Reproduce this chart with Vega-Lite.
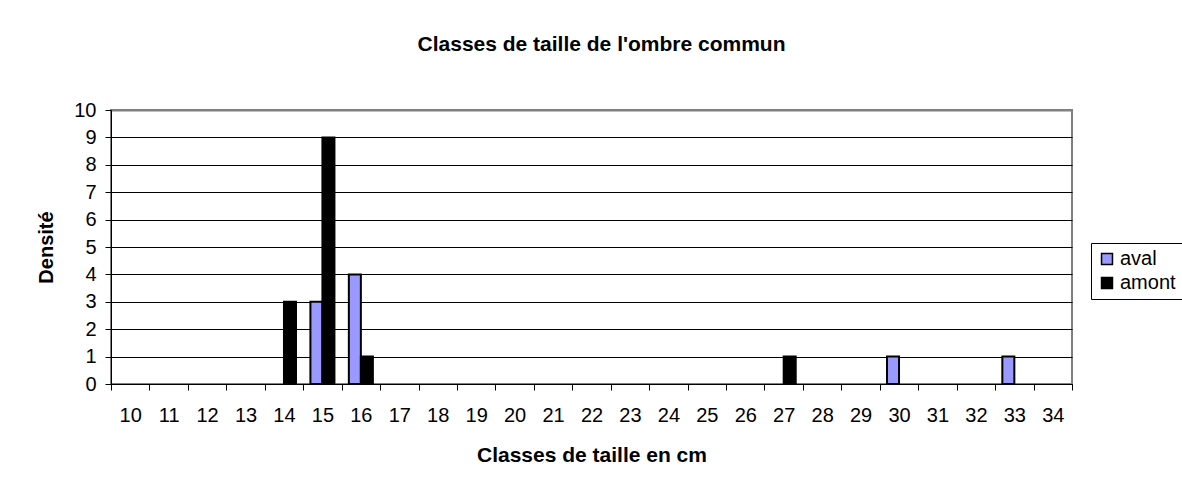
{
  "$schema": "https://vega.github.io/schema/vega-lite/v6.json",
  "autosize": {"type": "none"},
  "width": 961,
  "height": 274,
  "padding": {"left": 111, "top": 110, "right": 110, "bottom": 102},
  "background": "white",
  "title": {
    "text": "Classes de taille de l'ombre commun",
    "fontSize": 21,
    "fontWeight": "bold",
    "font": "Liberation Sans",
    "color": "black",
    "anchor": "middle",
    "frame": "group",
    "dx": 10,
    "offset": 45
  },
  "data": {
    "values": [
      {"classe": 14, "serie": "amont", "densite": 3},
      {"classe": 15, "serie": "aval", "densite": 3},
      {"classe": 15, "serie": "amont", "densite": 9},
      {"classe": 16, "serie": "aval", "densite": 4},
      {"classe": 16, "serie": "amont", "densite": 1},
      {"classe": 27, "serie": "amont", "densite": 1},
      {"classe": 30, "serie": "aval", "densite": 1},
      {"classe": 33, "serie": "aval", "densite": 1}
    ]
  },
  "mark": {"type": "bar", "stroke": "black", "strokeWidth": 2, "strokeOpacity": 1},
  "encoding": {
    "x": {
      "field": "classe",
      "type": "ordinal",
      "scale": {"domain": [10,11,12,13,14,15,16,17,18,19,20,21,22,23,24,25,26,27,28,29,30,31,32,33,34], "paddingInner": 0, "paddingOuter": 0},
      "axis": {
        "title": "Classes de taille en cm",
        "titleFontSize": 21,
        "titleFontWeight": "bold",
        "titleColor": "black",
        "titlePadding": 19,
        "labelAngle": 0,
        "labelFontSize": 20,
        "labelColor": "black",
        "labelPadding": 15,
        "tickBand": "extent",
        "tickSize": 6,
        "tickColor": "black",
        "domainColor": "black",
        "grid": false
      }
    },
    "xOffset": {
      "field": "serie",
      "type": "nominal",
      "scale": {"domain": ["aval", "amont"], "paddingInner": 0, "paddingOuter": 0.6}
    },
    "y": {
      "field": "densite",
      "type": "quantitative",
      "scale": {"domain": [0, 10], "nice": false},
      "axis": {
        "title": "Densité",
        "titleFontSize": 20,
        "titleFontWeight": "bold",
        "titleColor": "black",
        "titlePadding": 17,
        "values": [0,1,2,3,4,5,6,7,8,9,10],
        "labelFontSize": 20,
        "labelColor": "black",
        "labelPadding": 9,
        "tickSize": 6,
        "tickColor": "black",
        "domainColor": "black",
        "grid": true,
        "gridColor": {"condition": {"test": "datum.value == 10", "value": "#808080"}, "value": "black"},
        "gridWidth": {"condition": {"test": "datum.value == 10", "value": 2}, "value": 1}
      }
    },
    "fill": {
      "field": "serie",
      "type": "nominal",
      "scale": {"domain": ["aval", "amont"], "range": ["#9999FF", "#000000"]},
      "legend": {
        "title": null,
        "orient": "none",
        "legendX": 980,
        "legendY": 133,
        "labelFontSize": 20,
        "labelColor": "black",
        "symbolType": "square",
        "symbolSize": 120,
        "symbolStrokeColor": "black",
        "symbolStrokeWidth": 1.5,
        "symbolOpacity": 1,
        "strokeColor": "black",
        "fillColor": "white",
        "padding": 6,
        "rowPadding": 4,
        "labelOffset": 3
      }
    }
  },
  "config": {
    "font": "Liberation Sans",
    "view": {"stroke": "#808080", "strokeWidth": 2},
    "axis": {"labelFont": "Liberation Sans", "titleFont": "Liberation Sans"},
    "legend": {"labelFont": "Liberation Sans"}
  }
}
